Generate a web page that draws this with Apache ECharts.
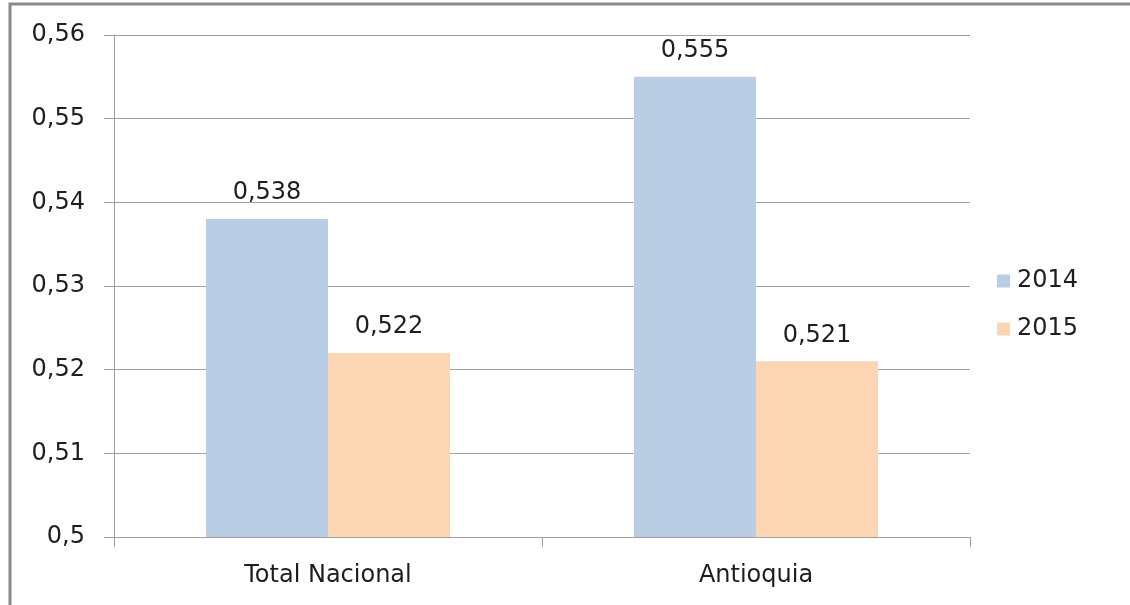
<!DOCTYPE html>
<html><head><meta charset="utf-8">
<script src="https://cdn.jsdelivr.net/npm/echarts@6/dist/echarts.min.js"></script>
<style>html,body{margin:0;padding:0;background:#fff}#c{width:1130px;height:605px}</style>
</head><body><div id="c"></div>
<script>
const categories = ['Total Nacional', 'Antioquia'];
const seriesNames = ['2014', '2015'];
const values2014 = [0.538, 0.555];
const values2015 = [0.522, 0.521];
const yMin = 0.5, yMax = 0.56, yStep = 0.01;

const fmt = v => String(Math.round(v * 1000) / 1000).replace('.', ',');
const FONT = 'DejaVu Sans';
const FS = 24;
const TC = '#1e1e1e';
const chart = echarts.init(document.getElementById('c'), null, {renderer: 'canvas'});
chart.setOption({
  animation: false,
  backgroundColor: '#fff',
  textStyle: {fontFamily: FONT},
  graphic: [{
    type: 'rect', shape: {x: 10, y: 4, width: 1140, height: 620},
    style: {fill: 'none', stroke: '#8a8a8a', lineWidth: 3}
  }],
  grid: {left: 114, right: 160, top: 35, bottom: 68},
  legend: {
    orient: 'vertical', left: 992, top: 264, itemGap: 24,
    itemWidth: 13, itemHeight: 13, icon: 'rect',
    textStyle: {fontFamily: FONT, fontSize: FS, color: TC, padding: [0, 0, 0, 2]},
    data: seriesNames
  },
  xAxis: {
    type: 'category', data: categories,
    axisLine: {lineStyle: {color: '#a0a0a0', width: 1}},
    axisTick: {show: true, length: 10, lineStyle: {color: '#a0a0a0'}},
    axisLabel: {fontFamily: FONT, fontSize: FS, color: TC, margin: 27}
  },
  yAxis: {
    type: 'value', min: yMin, max: yMax, interval: yStep,
    axisLine: {show: true, lineStyle: {color: '#a0a0a0'}},
    axisTick: {show: true, length: 10, lineStyle: {color: '#a0a0a0'}},
    splitLine: {lineStyle: {color: '#a0a0a0'}},
    axisLabel: {fontFamily: FONT, fontSize: FS, color: TC, margin: 29, formatter: fmt}
  },
  series: [
    {name: seriesNames[0], type: 'bar', data: values2014, barWidth: 122, barGap: '0%',
     itemStyle: {color: '#b9cde5'},
     label: {show: true, position: 'top', distance: 14, fontFamily: FONT, fontSize: FS, color: TC, formatter: p => fmt(p.value)}},
    {name: seriesNames[1], type: 'bar', data: values2015, barWidth: 122, barGap: '0%',
     itemStyle: {color: '#fcd5b5'},
     label: {show: true, position: 'top', distance: 14, fontFamily: FONT, fontSize: FS, color: TC, formatter: p => fmt(p.value)}}
  ]
});
</script></body></html>
